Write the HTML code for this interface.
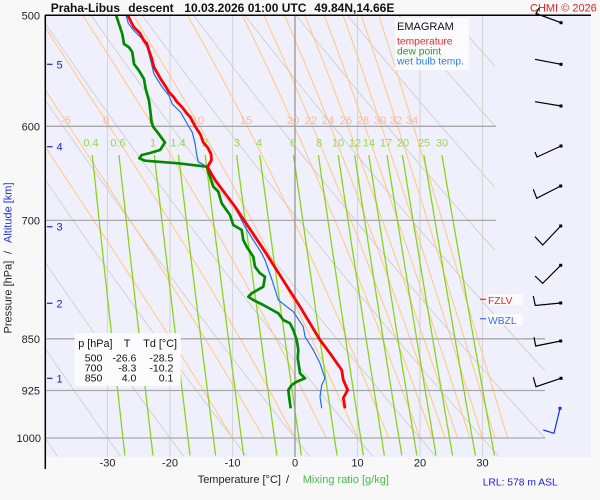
<!DOCTYPE html>
<html><head><meta charset="utf-8"><style>
html,body{margin:0;padding:0;background:#f8f8f8;}
svg{display:block;font-family:"Liberation Sans",Arial,sans-serif;}
</style></head><body>
<svg id="s" width="600" height="500" viewBox="0 0 600 500" xmlns="http://www.w3.org/2000/svg">
<defs><clipPath id="cp"><polygon points="45,15 495,15 495,302 545,302 545,457 45,457"/></clipPath></defs>
<rect x="0" y="0" width="600" height="500" fill="#f8f8f8"/>
<rect x="45" y="15" width="546" height="442" fill="#f0f0fc"/>
<g stroke="#d6d6d6" stroke-width="1.2">
<line x1="107.5" y1="16" x2="107.5" y2="457"/><line x1="170" y1="16" x2="170" y2="457"/><line x1="232.5" y1="16" x2="232.5" y2="457"/>
<line x1="357.5" y1="16" x2="357.5" y2="457"/><line x1="420" y1="16" x2="420" y2="457"/><line x1="482.5" y1="16" x2="482.5" y2="457"/>
</g>
<g clip-path="url(#cp)" fill="none">
<path id="dry" stroke="#d2d2d2" stroke-width="1"/>
<path id="moist" stroke="#ffc880" stroke-width="1"/>
<path id="mix" stroke="#8ad416" stroke-width="1.3"/>
</g>
<line x1="295" y1="16" x2="295" y2="457" stroke="#909090" stroke-width="1.2"/>
<g stroke="#a8a8a8" stroke-width="1.3">
<line x1="45" y1="126.3" x2="496" y2="126.3"/><line x1="45" y1="220.4" x2="496" y2="220.4"/>
<line x1="45" y1="338.8" x2="545" y2="338.8"/><line x1="45" y1="390.5" x2="545" y2="390.5"/><line x1="45" y1="438" x2="545" y2="438"/>
</g>
<g font-size="11" fill="#ffb4a0" text-anchor="middle">
<text x="66" y="124">-5</text><text x="106" y="124">0</text><text x="151" y="124">5</text><text x="198" y="124">10</text><text x="246" y="124">15</text><text x="293" y="124">20</text><text x="311" y="124">22</text><text x="328" y="124">24</text><text x="346" y="124">26</text><text x="363" y="124">28</text><text x="380" y="124">30</text><text x="396" y="124">32</text><text x="412" y="124">34</text>
</g>
<g font-size="11" fill="#96d84a" text-anchor="middle">
<text x="91" y="146.5">0.4</text><text x="118" y="146.5">0.6</text><text x="153" y="146.5">1</text><text x="178" y="146.5">1.4</text><text x="205" y="146.5">2</text><text x="237" y="146.5">3</text><text x="259" y="146.5">4</text><text x="293" y="146.5">6</text><text x="319" y="146.5">8</text><text x="338" y="146.5">10</text><text x="355" y="146.5">12</text><text x="369" y="146.5">14</text><text x="386" y="146.5">17</text><text x="403" y="146.5">20</text><text x="424" y="146.5">25</text><text x="442" y="146.5">30</text>
</g>
<polyline fill="none" stroke="#1e6cff" stroke-width="1.2" stroke-linejoin="round" points="126,15 128.3,23.3 133.3,30 140.7,37.3 147.3,47.3 150.7,60.7 154,74 162.3,87.3 169,95.7 172.3,104 180.7,112.3 187.3,124 192.3,132.3 195,143.3 196.7,155 198.3,161.7 206.7,166.7 218.3,183.3 231.7,201.7 238.3,213.3 245,226.7 253.3,240 261.7,253.3 265,260 272,280 278.3,300 286.7,306.7 293.3,311.7 303.3,326.7 305,336.7 313.3,350 320,363.3 323.3,373.3 325,378.3 321.7,385 320,396.7 321.7,408.3"/>
<polyline fill="none" stroke="#008a00" stroke-width="2.7" stroke-linejoin="round" points="116,15 119,24 122.3,34 124,44 129,47.3 132.3,52.3 134,64 139,70.7 144,79 145.7,89 149,100.7 150.7,114 151.5,122 153.3,127 158.3,133.3 165,142.5 160,150 150,153 141.7,155 139.3,158.3 145,160.7 178.3,163.3 206.7,166.7 210,176.7 213.3,186.7 218.3,191.7 221.7,203.3 230,215 233.3,225 241.7,230 243.3,240 246.7,246.7 253.3,256.7 255,266.7 260,273.3 265,276.7 263.3,286.7 251.7,293.3 248.3,296.7 253.3,300 263.3,305 278.3,313.3 283.3,320 290,323.3 293.3,330 296.7,340 298.3,350 297.7,358.3 298.3,361.7 300,373.3 305,378.3 296.7,381.7 291.7,385 288.3,390 289.3,398.3 290,403.3 290.7,408.3"/>
<polyline fill="none" stroke="#ff0000" stroke-width="2.8" stroke-linejoin="round" points="127.7,15 131.7,23.3 134,27.3 140,33.3 144,40.7 146.7,43.3 149,50.7 151.7,58.3 154,67.3 157,72.5 160.7,79 166.7,88.3 169,92.3 173.3,96.7 177.3,102.3 181.7,106.7 187.3,114 190,116.7 195.7,127.3 200.7,135 203,142 208,148 211,154 211.5,160 207.5,167 215,180 225,193.3 235,206.7 245,221.7 255,236.7 265,251.7 283,280 300,306.7 310,323.3 320,340 330,353.3 341.7,370 343.3,380 347.7,390 343.3,398 345,408.3"/>
<line x1="45.3" y1="15" x2="45.3" y2="469" stroke="#000" stroke-width="1.5"/>
<line x1="45" y1="15.3" x2="591" y2="15.3" stroke="#000" stroke-width="1.5"/>
<g font-size="11" fill="#222" text-anchor="end">
<text x="40" y="19.5">500</text><text x="40" y="130.5">600</text><text x="40" y="224.5">700</text><text x="40" y="343">850</text><text x="40" y="394.5">925</text><text x="41" y="442">1000</text>
</g>
<g stroke="#2020e0" stroke-width="1.2">
<line x1="47" y1="64.3" x2="52.5" y2="64.3"/><line x1="47" y1="146.7" x2="52.5" y2="146.7"/><line x1="47" y1="226.7" x2="52.5" y2="226.7"/><line x1="47" y1="303.3" x2="52.5" y2="303.3"/><line x1="47" y1="378.3" x2="52.5" y2="378.3"/>
</g>
<g font-size="11" fill="#2020e0">
<text x="56.5" y="68.3">5</text><text x="56.5" y="150.7">4</text><text x="56.5" y="230.7">3</text><text x="56.5" y="307.3">2</text><text x="56.5" y="382.3">1</text>
</g>
<g font-size="11" fill="#222" text-anchor="middle">
<text x="107.5" y="466.5">-30</text><text x="170" y="466.5">-20</text><text x="232.5" y="466.5">-10</text><text x="295" y="466.5">0</text><text x="357.5" y="466.5">10</text><text x="420" y="466.5">20</text><text x="482.5" y="466.5">30</text>
</g>
<text x="197.7" y="483" font-size="11" fill="#222">Temperature [°C]</text>
<text x="286" y="483" font-size="11" fill="#222">/</text>
<text x="302.7" y="483" font-size="11" fill="#46c046">Mixing ratio [g/kg]</text>
<text x="482.7" y="485.5" font-size="10.3" fill="#2020f0">LRL: 578 m ASL</text>
<text transform="translate(11.7,333.5) rotate(-90)" font-size="11" fill="#222">Pressure [hPa]</text>
<text transform="translate(11.7,254) rotate(-90)" font-size="11" fill="#222">/</text>
<text transform="translate(11.7,243) rotate(-90)" font-size="11" fill="#2030e0">Altitude [km]</text>
<g font-size="12" font-weight="bold" fill="#111">
<text x="50.7" y="11.8">Praha-Libus</text><text x="128.3" y="11.8">descent</text><text x="184.3" y="11.8">10.03.2026 01:00 UTC</text><text x="314.3" y="11.8">49.84N,14.66E</text>
</g>
<text x="530" y="11.5" font-size="11" fill="#f01e1e">CHMI © 2026</text>
<rect x="395" y="18" width="74" height="52" fill="#fbfbfe"/>
<text x="397" y="30" font-size="11" fill="#111">EMAGRAM</text>
<text x="397" y="44.3" font-size="10.3" fill="#ff2020">temperature</text>
<text x="397" y="54.3" font-size="10.3" fill="#20a020">dew point</text>
<text x="397" y="64.3" font-size="10.3" fill="#3080f0">wet bulb temp.</text>
<rect x="74.7" y="333" width="106" height="53" fill="#fbfbfe"/>
<g font-size="10.8" fill="#111">
<text x="78.3" y="347">p [hPa]</text><text x="127" y="347" text-anchor="middle">T</text><text x="143.3" y="347">Td [°C]</text>
</g>
<g font-size="10.5" fill="#111" text-anchor="end">
<text x="102.3" y="361.7">500</text><text x="136.3" y="361.7">-26.6</text><text x="173.3" y="361.7">-28.5</text>
<text x="102.3" y="371.7">700</text><text x="136.3" y="371.7">-8.3</text><text x="173.3" y="371.7">-10.2</text>
<text x="102.3" y="381.7">850</text><text x="136.3" y="381.7">4.0</text><text x="173.3" y="381.7">0.1</text>
</g>
<line x1="480" y1="299.3" x2="486" y2="299.3" stroke="#ff2020" stroke-width="1.2"/>
<rect x="487.7" y="294" width="35" height="11" fill="#fbfbfe"/>
<text x="488" y="304" font-size="10.3" fill="#ff2020">FZLV</text>
<line x1="480" y1="318.7" x2="486" y2="318.7" stroke="#3070f0" stroke-width="1.2"/>
<rect x="487.7" y="314.3" width="35" height="11" fill="#fbfbfe"/>
<text x="488" y="324" font-size="10.3" fill="#3070f0">WBZL</text>
<g stroke="#000" stroke-width="1.2" fill="none">
<polyline points="539,8 536,13.5 561,22.7"/>
<polyline points="535,59.3 561,64.3"/>
<polyline points="535,101.7 561,106"/>
<polyline points="535,152 537,157 561,146"/>
<polyline points="533.3,189.3 536.7,198.3 560.7,186"/>
<polyline points="535,236.7 542.7,245 560.7,226"/>
<polyline points="535,276 542.7,283.3 560.7,265.3"/>
<polyline points="533.3,296 535.3,305.5 560.7,303"/>
<polyline points="534,337.3 535.7,346 560.7,341"/>
<polyline points="533.3,377.3 536,386.7 561,378.3"/>
</g>
<g fill="#000">
<rect x="559.5" y="21.2" width="3" height="3"/><rect x="559.5" y="62.8" width="3" height="3"/><rect x="559.5" y="104.5" width="3" height="3"/><rect x="559.5" y="144.5" width="3" height="3"/><rect x="559.2" y="184.5" width="3" height="3"/><rect x="559.2" y="224.5" width="3" height="3"/><rect x="559.2" y="263.8" width="3" height="3"/><rect x="559.2" y="301.5" width="3" height="3"/><rect x="559.2" y="339.5" width="3" height="3"/><rect x="559.5" y="376.8" width="3" height="3"/>
</g>
<polyline points="560,408.3 554,433.3 543.3,430" fill="none" stroke="#1030f0" stroke-width="1.2"/>
<rect x="558.5" y="406.8" width="3" height="3" fill="#1030f0"/>
</svg>
<script>
(function(){
var X=function(T){return 295+6.25*T;},Y=function(p){return 15+610.3*Math.log(p/500);};
function es(T){return 6.112*Math.exp(17.67*T/(T+243.5));}
function fm(a){return a[0].toFixed(1)+','+a[1].toFixed(1);}
var d='',i,p,pts;
var ws=[0.4,0.6,1,1.4,2,3,4,6,8,10,12,14,17,20,25,30];
for(i=0;i<ws.length;i++){var w=ws[i];pts=[];for(p=629;p<=1035;p+=8){var e=w*p/(622+w),l=Math.log(e/6.112),T=243.5*l/(17.67-l);pts.push([X(T),Y(p)]);}d+='M'+pts.map(fm).join('L');}
document.getElementById('mix').setAttribute('d',d);
d='';
for(var th=-50;th<=120;th+=10){pts=[];for(p=500;p<=1035;p+=10){var T=(th+273.15)*Math.pow(p/1000,0.2857)-273.15;pts.push([X(T),Y(p)]);}d+='M'+pts.map(fm).join('L');}
document.getElementById('dry').setAttribute('d',d);
function f(T,p){var Tk=T+273.15,e=es(T),r=0.622*e/(p-e);return (287.04*Tk+2.501e6*r)/(1005.7+2.501e6*2.501e6*r*0.622/(287.04*Tk*Tk));}
var tws=[-10,-5,0,5,10,15,20,22,24,26,28,30,32,34];d='';
var l5=Math.log(500);
for(i=0;i<tws.length;i++){var T=tws[i],lp=Math.log(1000);pts=[[X(T),Y(1000)]];
while(lp>l5+1e-9){var hh=Math.max(-0.01,l5-lp);var k1=f(T,Math.exp(lp));var k2=f(T+hh*k1,Math.exp(lp+hh));T+=hh*(k1+k2)/2;lp+=hh;pts.push([X(T),Y(Math.exp(lp))]);}
d+='M'+pts.map(fm).join('L');}
document.getElementById('moist').setAttribute('d',d);
})();
</script>
</body></html>
